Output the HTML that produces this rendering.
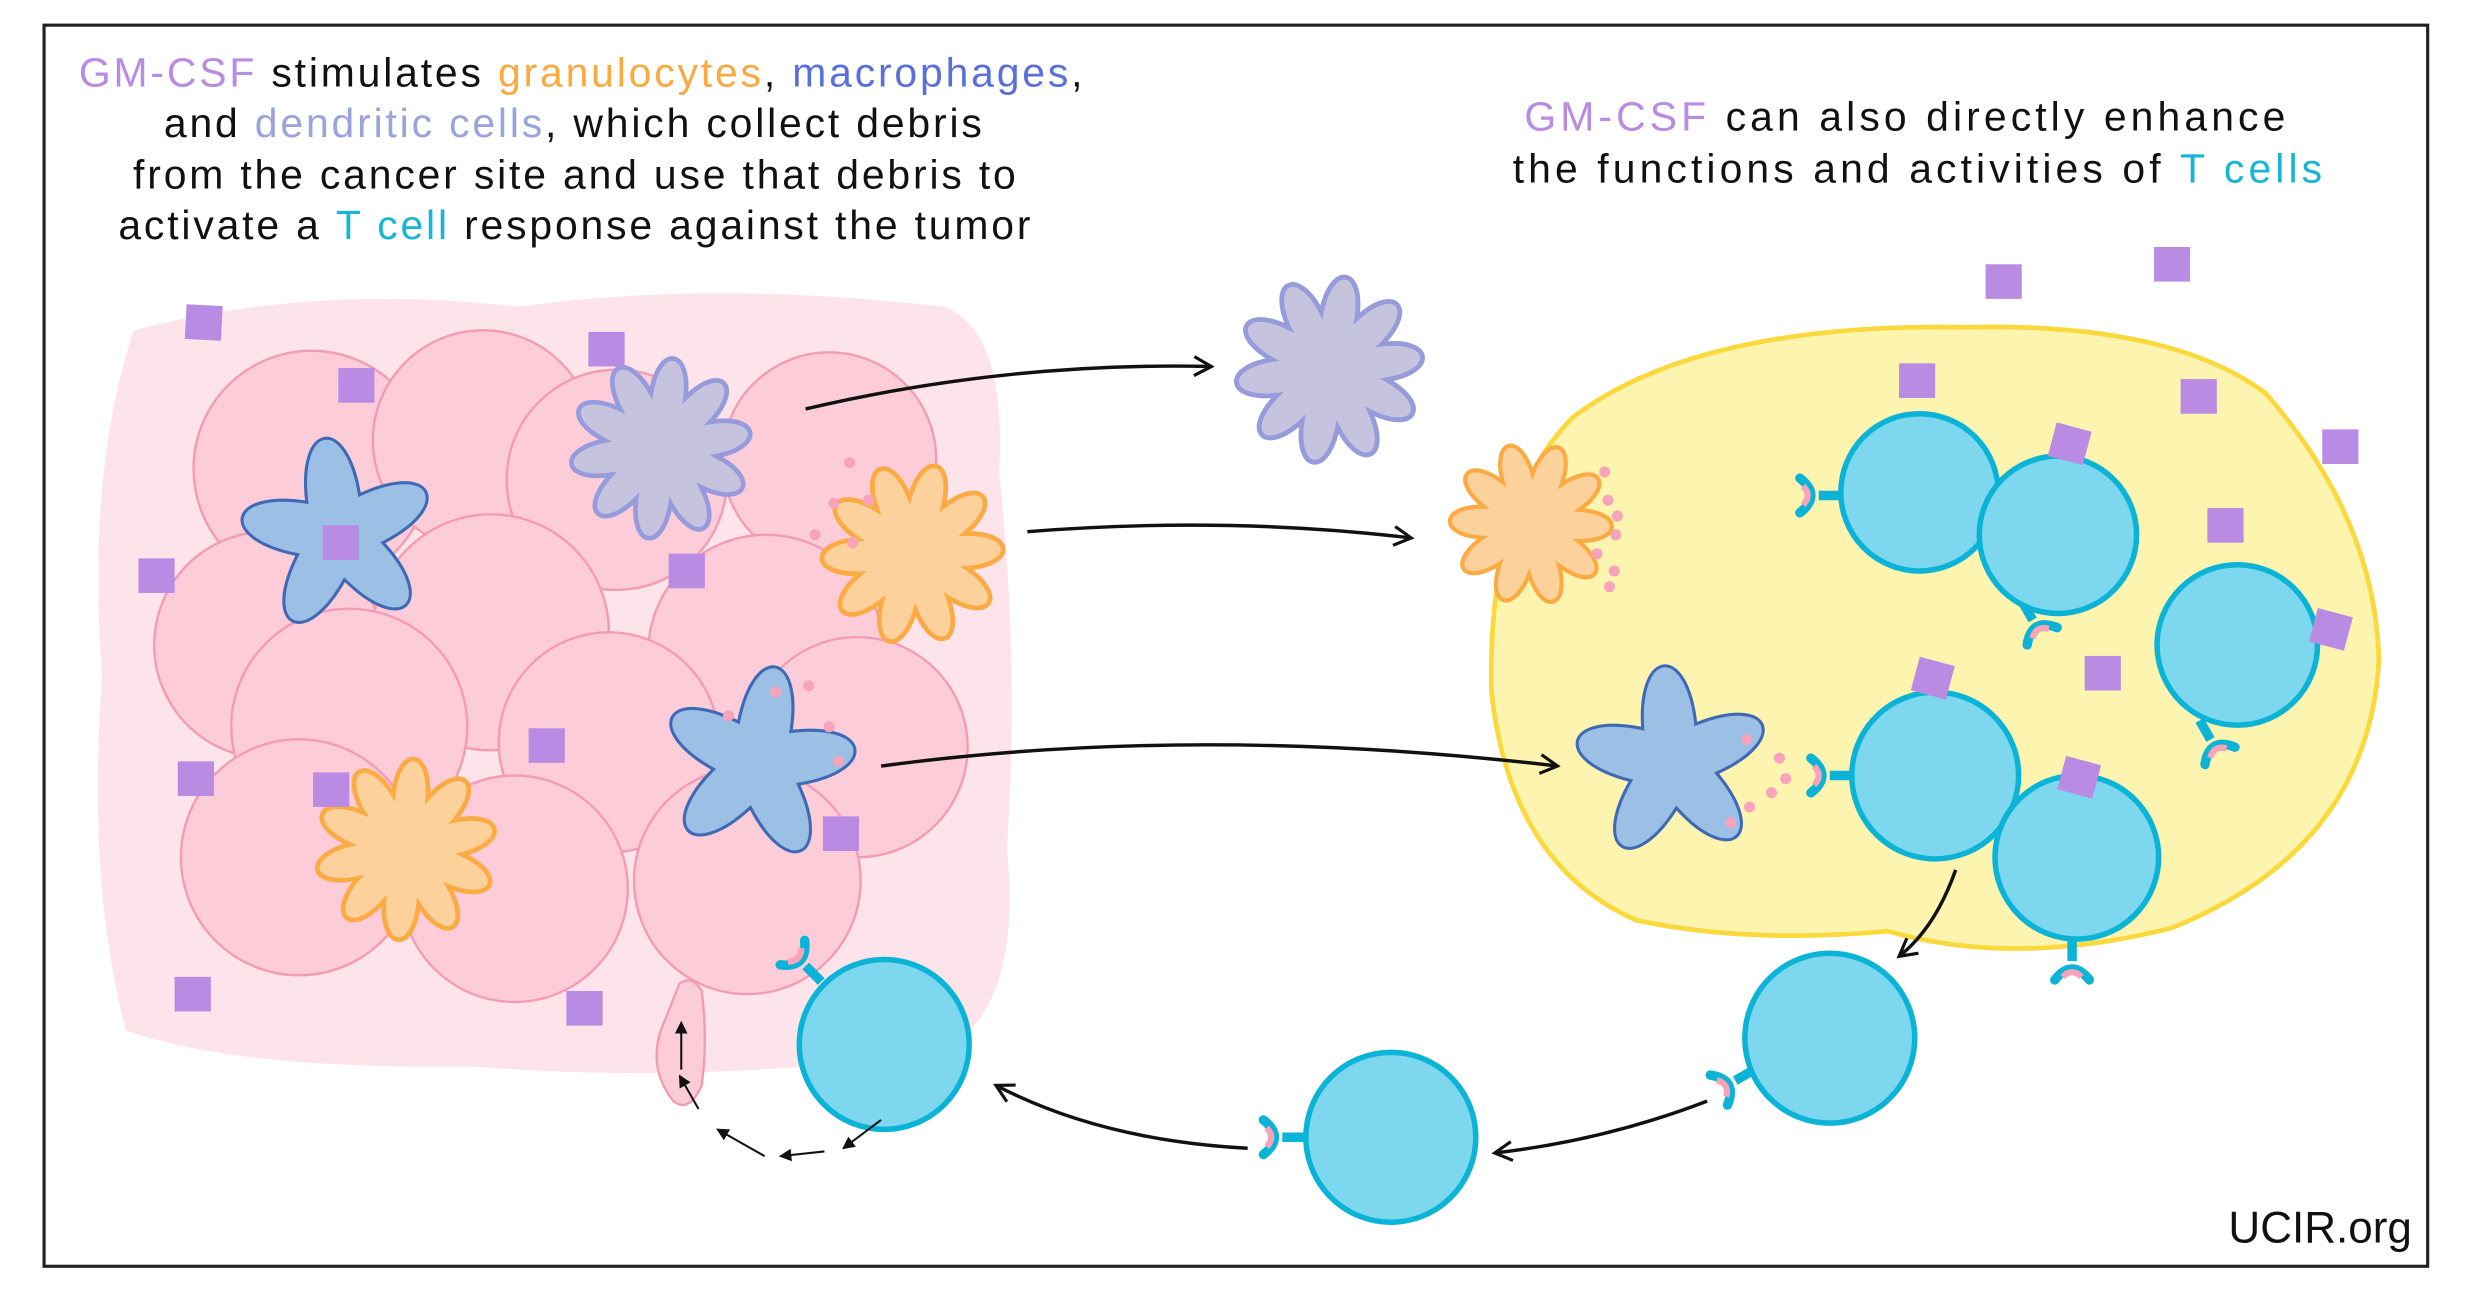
<!DOCTYPE html>
<html><head><meta charset="utf-8"><style>
html,body{margin:0;padding:0;background:#fff}
svg{display:block}
text{font-family:"Liberation Sans",sans-serif}
</style></head><body>
<svg width="2467" height="1293" viewBox="0 0 1568 822" preserveAspectRatio="none" xmlns="http://www.w3.org/2000/svg">
<defs>
<path id="star" d="M-18.8,-25.9 C-17.7,-83.1 17.7,-83.1 18.8,-25.9 C73.6,-42.5 84.6,-8.9 30.4,9.9 C63.2,56.9 34.6,77.7 0,32 C-34.6,77.7 -63.2,56.9 -30.4,9.9 C-84.6,-8.9 -73.6,-42.5 -18.8,-25.9 Z"/>
<path id="flower" d="M42,0 C77.1,12.2 69.5,35.4 34,24.7 C55.1,55.1 35.4,69.5 13,39.9 C12.2,77.1 -12.2,77.1 -13,39.9 C-35.4,69.5 -55.1,55.1 -34,24.7 C-69.5,35.4 -77.1,12.2 -42,0 C-77.1,-12.2 -69.5,-35.4 -34,-24.7 C-55.1,-55.1 -35.4,-69.5 -13,-39.9 C-12.2,-77.1 12.2,-77.1 13,-39.9 C35.4,-69.5 55.1,-55.1 34,-24.7 C69.5,-35.4 77.1,-12.2 42,0 Z"/>
<g id="rec">
<line x1="0" y1="0" x2="-14" y2="0" stroke="#0bb4d6" stroke-width="6"/>
<path d="M-26,-11 Q-12,0 -26,11" fill="none" stroke="#0bb4d6" stroke-width="6" stroke-linecap="round"/>
<path d="M-24,-6 Q-18,0 -24,6" fill="none" stroke="#f7a3b9" stroke-width="4"/>
</g>
<marker id="ah" markerWidth="14" markerHeight="14" refX="12" refY="7" orient="auto" markerUnits="userSpaceOnUse"><path d="M1,1 L12,7 L1,13" fill="none" stroke="#111" stroke-width="2"/></marker>
<marker id="sa" markerWidth="8" markerHeight="8" refX="7" refY="4" orient="auto" markerUnits="userSpaceOnUse"><path d="M0,0 L8,4 L0,8 Z" fill="#111"/></marker>
</defs>
<rect x="28" y="16" width="1515" height="789" fill="#fff" stroke="#222" stroke-width="2"/>

<g font-size="26" text-anchor="middle" fill="#111" letter-spacing="1.8">
<text x="370" y="55"><tspan fill="#b98be3">GM-CSF</tspan> stimulates <tspan fill="#fca940">granulocytes</tspan>, <tspan fill="#5a6fdc">macrophages</tspan>,</text>
<text x="365" y="87">and <tspan fill="#9aa3dc">dendritic cells</tspan>, which collect debris</text>
<text x="366" y="120">from the cancer site and use that debris to</text>
<text x="366" y="152">activate a <tspan fill="#15b6d6">T cell</tspan> response against the tumor</text>
</g>
<g font-size="26" text-anchor="middle" fill="#111" letter-spacing="2.6">
<text x="1212" y="83"><tspan fill="#b98be3">GM-CSF</tspan> can also directly enhance</text>
<text x="1220" y="116">the functions and activities of <tspan fill="#15b6d6">T cells</tspan></text>
</g>

<path d="M85,210 Q200,180 330,195 Q450,178 600,195 Q640,210 635,300 Q648,420 640,540 Q650,640 600,668 Q450,690 300,678 Q150,680 80,655 Q55,560 65,430 Q55,300 85,210 Z" fill="#fde3ea"/>
<path d="M432,625 Q440,620 446,630 Q450,660 446,690 Q438,708 428,700 Q412,680 420,655 Z" fill="#fccdd9" stroke="#f59ab5" stroke-width="1.5"/>
<g fill="#fccdd9" stroke="#f59ab5" stroke-width="1.5">
<circle cx="198" cy="298" r="75"/><circle cx="307" cy="280" r="70"/><circle cx="392" cy="305" r="70"/><circle cx="527" cy="292" r="68"/>
<circle cx="170" cy="410" r="72"/><circle cx="312" cy="402" r="75"/><circle cx="487" cy="415" r="75"/><circle cx="545" cy="475" r="70"/>
<circle cx="222" cy="462" r="75"/><circle cx="387" cy="472" r="70"/>
<circle cx="190" cy="545" r="75"/><circle cx="327" cy="565" r="72"/><circle cx="475" cy="560" r="72"/>
</g>
<use href="#star" transform="translate(215,340) rotate(-8) scale(0.9)" fill="#9cc0e5" stroke="#3e69b5" stroke-width="2.2"/>
<use href="#star" transform="translate(482,485) rotate(10) scale(0.9)" fill="#9cc0e5" stroke="#3e69b5" stroke-width="2.2"/>
<use href="#flower" transform="translate(420,285) rotate(8) scale(0.85)" fill="#c5c3dd" stroke="#979bdb" stroke-width="3.5"/>
<use href="#flower" transform="translate(580,352) rotate(15) scale(0.85)" fill="#fdd19c" stroke="#fcab44" stroke-width="3.5"/>
<use href="#flower" transform="translate(258,540) rotate(5) scale(0.85)" fill="#fdd19c" stroke="#fcab44" stroke-width="3.5"/>
<g fill="#f7a3b9"><circle cx="540" cy="294" r="3.5"/><circle cx="530" cy="320" r="3.5"/><circle cx="552" cy="318" r="3.5"/><circle cx="518" cy="340" r="3.5"/><circle cx="542" cy="345" r="3.5"/>
<circle cx="463" cy="455" r="3.5"/><circle cx="493" cy="440" r="3.5"/><circle cx="514" cy="436" r="3.5"/><circle cx="527" cy="462" r="3.5"/><circle cx="533" cy="484" r="3.5"/></g>

<use href="#rec" transform="translate(522,624) rotate(45)"/>
<circle cx="562" cy="664" r="54" fill="#7dd7ee" stroke="#0bb4d6" stroke-width="3.5"/>
<g stroke="#111" stroke-width="1.3" marker-end="url(#sa)">
<line x1="433" y1="680" x2="433" y2="650"/>
<line x1="444" y1="705" x2="432" y2="684"/>
<line x1="486" y1="735" x2="456" y2="718"/>
<line x1="524" y1="732" x2="496" y2="735"/>
<line x1="560" y1="712" x2="536" y2="730"/>
</g>

<path d="M1000,265 Q1080,205 1250,208 Q1380,205 1440,250 Q1510,330 1512,420 Q1505,540 1380,590 Q1280,615 1200,592 Q1110,600 1040,585 Q960,550 948,440 Q945,320 1000,265 Z" fill="#fdf4b0" stroke="#fbd93d" stroke-width="3"/>
<use href="#flower" transform="translate(845,235) rotate(10) scale(0.88)" fill="#c5c3dd" stroke="#979bdb" stroke-width="3.5"/>
<use href="#flower" transform="translate(973,333) rotate(20) scale(0.76)" fill="#fdd19c" stroke="#fcab44" stroke-width="3.5"/>
<use href="#star" transform="translate(1063,485) rotate(-5) scale(0.9)" fill="#9cc0e5" stroke="#3e69b5" stroke-width="2.2"/>
<g fill="#f7a3b9"><circle cx="1020" cy="300" r="3.5"/><circle cx="1022" cy="318" r="3.5"/><circle cx="1028" cy="328" r="3.5"/><circle cx="1027" cy="340" r="3.5"/><circle cx="1015" cy="352" r="3.5"/><circle cx="1026" cy="363" r="3.5"/><circle cx="1023" cy="373" r="3.5"/>
<circle cx="1110" cy="470" r="3.5"/><circle cx="1131" cy="482" r="3.5"/><circle cx="1135" cy="495" r="3.5"/><circle cx="1126" cy="504" r="3.5"/><circle cx="1112" cy="513" r="3.5"/><circle cx="1100" cy="523" r="3.5"/></g>

<g fill="#7dd7ee" stroke="#0bb4d6" stroke-width="3.5">
<use href="#rec" transform="translate(1170,315)"/>
<circle cx="1220" cy="313" r="50"/>
<use href="#rec" transform="translate(1285,382) rotate(-120)"/>
<circle cx="1308" cy="340" r="50"/>
<use href="#rec" transform="translate(1398,458) rotate(-120)"/>
<circle cx="1422" cy="410" r="51"/>
<use href="#rec" transform="translate(1177,493)"/>
<circle cx="1230" cy="493" r="53"/>
<use href="#rec" transform="translate(1317,597) rotate(-90)"/>
<circle cx="1320" cy="545" r="52"/>
<use href="#rec" transform="translate(1115,680) rotate(-30)"/>
<circle cx="1163" cy="660" r="54"/>
<use href="#rec" transform="translate(829,723)"/>
<circle cx="884" cy="723" r="54"/>
</g>

<g fill="#b98be3">
<rect x="118" y="194" width="23" height="22" transform="rotate(3 129 205)"/>
<rect x="215" y="234" width="23" height="22"/>
<rect x="374" y="211" width="23" height="22"/>
<rect x="205" y="334" width="23" height="22"/>
<rect x="88" y="355" width="23" height="22"/>
<rect x="425" y="352" width="23" height="22"/>
<rect x="113" y="484" width="23" height="22"/>
<rect x="199" y="491" width="23" height="22"/>
<rect x="336" y="463" width="23" height="22"/>
<rect x="523" y="519" width="23" height="22"/>
<rect x="111" y="621" width="23" height="22"/>
<rect x="360" y="630" width="23" height="22"/>
<rect x="1262" y="168" width="23" height="22"/>
<rect x="1369" y="157" width="23" height="22"/>
<rect x="1207" y="231" width="23" height="22"/>
<rect x="1386" y="241" width="23" height="22"/>
<rect x="1476" y="273" width="23" height="22"/>
<rect x="1304" y="271" width="23" height="22" transform="rotate(15 1315 282)"/>
<rect x="1403" y="323" width="23" height="22"/>
<rect x="1325" y="417" width="23" height="22"/>
<rect x="1217" y="420" width="23" height="22" transform="rotate(15 1228 431)"/>
<rect x="1470" y="389" width="23" height="22" transform="rotate(15 1481 400)"/>
<rect x="1310" y="483" width="23" height="22" transform="rotate(15 1321 494)"/>
</g>

<g fill="none" stroke="#111" stroke-width="2.2" marker-end="url(#ah)">
<path d="M512,260 Q640,230 770,233"/>
<path d="M653,338 Q780,328 897,342"/>
<path d="M560,487 Q760,460 990,487"/>
<path d="M1243,553 Q1230,590 1207,608"/>
<path d="M1085,700 Q1020,725 950,733"/>
<path d="M793,730 Q700,725 633,690"/>
</g>

<text x="1533" y="790" font-size="28" text-anchor="end" fill="#111">UCIR.org</text>
</svg>
</body></html>
